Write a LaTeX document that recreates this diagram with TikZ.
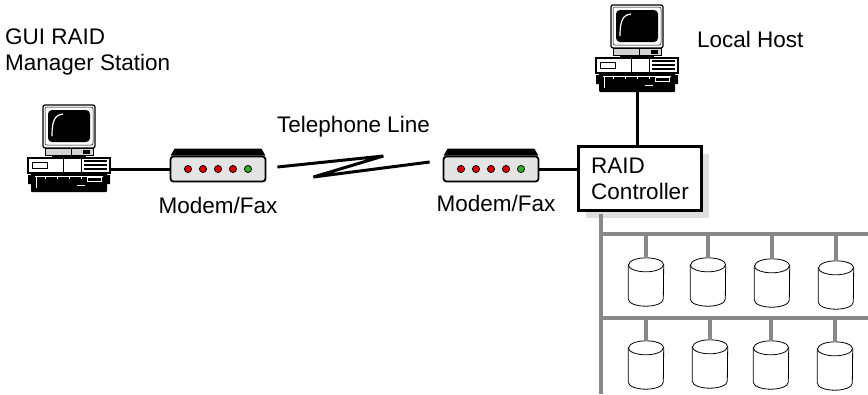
\documentclass[tikz,border=0pt]{standalone}
\usepackage{fontspec}
\setmainfont{Liberation Sans}
\usetikzlibrary{positioning,shadows}
\definecolor{BusGray}{RGB}{136,136,136}
\definecolor{ShadowGray}{RGB}{222,222,222}
\definecolor{FaceGray}{RGB}{228,228,228}
\definecolor{LedRed}{RGB}{215,0,0}
\definecolor{LedGreen}{RGB}{50,170,40}
\tikzset{
    lbl/.style={inner sep=0pt, font=\fontsize{22.5}{26}\selectfont},
    link/.style={draw=black, line width=3pt},
    bus/.style={draw=BusGray, line width=4pt},
    pcspot/.style={rectangle, minimum width=82pt, minimum height=87pt, inner sep=0pt},
    modem/.style={rectangle, draw=black, line width=1.8pt, rounded corners=3pt, fill=FaceGray, minimum width=95pt, minimum height=25pt, inner sep=0pt},
    disk/.style={rectangle, minimum width=35pt, minimum height=48pt, inner sep=0pt},
    diskline/.style={draw=black, fill=white, line width=0.8pt}
}

\begin{document}
\begin{tikzpicture}[
        x=1pt, y=-1pt,
        % Style cho hop RAID
        raidbox/.style={
            lbl,
            rectangle,
            draw=black,
            fill=white,
            line width=3pt,
            align=left,
            minimum width=123pt,
            minimum height=64pt,
            drop shadow={shadow xshift=7pt, shadow yshift=-7pt, fill=ShadowGray, opacity=1}
        },
        % May tinh (man hinh + than may + ban phim)
        pics/pc/.style={code={
            \draw[line width=1.2pt, fill=white, rounded corners=2pt] (-26,-43) rectangle (26,0);
            \draw[line width=0.5pt, rounded corners=2pt] (-24,-41) rectangle (24,-3);
            \fill[rounded corners=4pt] (-21,-38) rectangle (21,-6);
            \draw[white, line width=1.2pt] (-17,-12) .. controls (-17,-28) and (-14,-33) .. (-6,-34);
            \draw[line width=1pt, fill=gray!35] (-24,0) rectangle (24,7);
            \draw[line width=0.6pt] (2,0) -- (2,7);
            \fill (14,1.5) rectangle (21,5.5);
            \fill (-17,7) rectangle (17,10);
            \draw[line width=1.2pt, fill=white] (-41,10) rectangle (41,25);
            \draw[line width=0.8pt] (-37,14) rectangle (-22,20);
            \draw[line width=0.6pt] (-6,10) -- (-6,25) (12,10) -- (12,25);
            \foreach \s in {13,17,21} \fill (15,\s-1) rectangle (38,\s+0.8);
            \fill[rounded corners=1pt] (-38,25) rectangle (38,44);
            \fill (-41,27) rectangle (-37,36) (37,27) rectangle (41,36);
            \draw[white, line width=0.5pt] (-34,28) -- (34,28) (-33,28) -- (-33,40);
            \foreach \k in {-24,-12,0,12} \draw[white, line width=0.5pt] (\k,29) -- (\k,31);
            \draw[white, line width=0.5pt] (18,29) rectangle (32,33);
            \draw[white, line width=0.5pt] (8,37) -- (16,37);
        }}
    ]
    \useasboundingbox (0,0) rectangle (868,394);

    % --- MAY TINH ---
    \node[pcspot] (gui) at (69,148) {};
    \pic at (gui.center) {pc};
    \node[pcspot] (host) at (637,48) {};
    \pic at (host.center) {pc};

    \node[lbl, anchor=base west, align=left] (guiLbl) at (5,70) {GUI RAID\\Manager Station};
    \node[lbl, anchor=base west] (hostLbl) at (697,47) {Local Host};

    % --- MODEM ---
    \node[modem] (modemL) at (218,169) {};
    \node[modem] (modemR) at (491,169) {};
    \foreach \m in {modemL, modemR} {
        \fill ([xshift=1pt]\m.north west) -- ([xshift=5pt,yshift=7pt]\m.north west)
            -- ([xshift=-5pt,yshift=7pt]\m.north east) -- ([xshift=-1pt]\m.north east) -- cycle;
        \foreach \k/\c in {-2/LedRed, -1/LedRed, 0/LedRed, 1/LedRed, 2/LedGreen}
            \filldraw[fill=\c, draw=black, line width=0.7pt] ([xshift=\k*15pt]\m.center) circle (3.6pt);
    }
    \node[lbl, anchor=base] (labL) at ([yshift=-31pt]modemL.south) {Modem/Fax};
    \node[lbl, anchor=base] (labR) at ([xshift=5pt,yshift=-29pt]modemR.south) {Modem/Fax};

    % --- DUONG DIEN THOAI ---
    \node[lbl, anchor=base west] (telLbl) at (277,132) {Telephone Line};
    \draw[link] ([xshift=11pt,yshift=2pt]modemL.east) -- ++(106,-11) -- ++(-70,21)
        -- ([xshift=-13pt,yshift=7pt]modemR.west);

    % --- RAID CONTROLLER ---
    \node[raidbox] (raid) at (640,178.5) {RAID\\Controller};

    \draw[link] (gui.east |- modemL.west) -- (modemL.west);
    \draw[link] (modemR.east) -- (modemR.east -| raid.west);
    \draw[link] (host.south) -- (host.south |- raid.north);

    % --- BUS VA O DIA ---
    \coordinate (busTop) at ([xshift=24pt,yshift=-1.5pt]raid.south west);
    \coordinate (busEnd) at (busTop |- 0,394);
    \coordinate (row1) at (busTop |- 0,234);
    \coordinate (row2) at (busTop |- 0,318);
    \draw[bus] (busTop) -- (busEnd);
    \foreach \r in {row1, row2}
        \draw[bus] (\r) -- (\r -| 868,0);

    \foreach \n/\x/\y in {1/646/282, 2/708/282, 3/772/283, 4/836/285,
                          5/646/365, 6/710/364, 7/771/365, 8/835/366} {
        \node[disk] (d\n) at (\x,\y) {};
        \path[diskline] ([yshift=-7pt]d\n.north west) -- ([yshift=7pt]d\n.south west)
            arc[start angle=180, end angle=360, x radius=17.5pt, y radius=7pt]
            -- ([yshift=-7pt]d\n.north east)
            arc[start angle=0, end angle=180, x radius=17.5pt, y radius=7pt] -- cycle;
        \draw[line width=0.8pt] ([yshift=-7pt]d\n.north west)
            arc[start angle=180, end angle=360, x radius=17.5pt, y radius=7pt];
    }
    \foreach \i in {1,...,4}
        \draw[bus] (d\i.north) -- (d\i.north |- row1);
    \foreach \i in {5,...,8}
        \draw[bus] (d\i.north) -- (d\i.north |- row2);

\end{tikzpicture}
\end{document}
